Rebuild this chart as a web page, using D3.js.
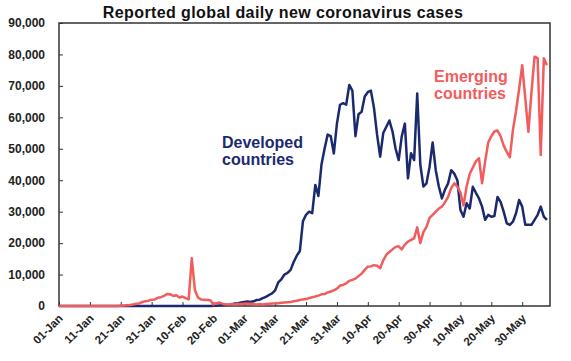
<!DOCTYPE html>
<html>
<head>
<meta charset="utf-8">
<script src="https://cdn.jsdelivr.net/npm/d3@7"></script>
<style>
  body { margin: 0; background: #fff; }
  svg text { font-family: "Liberation Sans", Arial, sans-serif; }
</style>
</head>
<body>
<div class="chart"></div>
<script>
// chart data, one value per day starting 01-Jan-2020
var startDate = "2020-01-01";
var emerging = [
  0, 0, 0, 0, 0, 0, 0, 0, 0, 0,
  0, 0, 0, 0, 0, 0, 0, 0, 0, 0,
  100, 150, 250, 300, 500, 700, 800, 1300, 1500, 1700,
  2000, 2100, 2600, 2800, 3200, 3800, 3700, 3200, 3400, 2700,
  3000, 2500, 2100, 15200, 5100, 2700, 2100, 2000, 1900, 1800,
  500, 900, 1100, 700, 500, 500, 600, 500, 600, 600,
  700, 800, 700, 600, 500, 600, 500, 600, 700, 800,
  800, 900, 1000, 1100, 1200, 1300, 1500, 1700, 1900, 2100,
  2200, 2500, 2800, 3000, 3300, 3700, 3800, 4300, 4600, 5000,
  5500, 6500, 6700, 7200, 8000, 8300, 8700, 9500, 10300, 11500,
  12500, 12600, 13000, 12800, 12000, 14500, 16300, 17200, 18000, 18800,
  19000, 18000, 19500, 20500, 21000, 21500, 25000, 20000, 23500, 25200,
  28000, 29000, 30000, 31000, 31600, 33000, 34700, 37500, 39000, 38000,
  36000, 32000, 38000, 42000, 44000, 46000, 47000, 39000, 46000, 52000,
  54000, 55500, 55800, 54000, 51000, 49000, 47300, 56000, 62000, 69000,
  76600, 66000, 55400, 68000, 79300, 78800, 48000, 78800, 76600
];
var developed = [
  0, 0, 0, 0, 0, 0, 0, 0, 0, 0,
  0, 0, 0, 0, 0, 0, 0, 0, 0, 0,
  0, 0, 0, 0, 0, 0, 0, 0, 0, 0,
  0, 0, 0, 0, 0, 0, 0, 0, 0, 0,
  0, 0, 0, 0, 0, 0, 0, 0, 0, 0,
  50, 100, 200, 300, 350, 400, 600, 800, 900, 1100,
  1300, 1400, 1300, 1500, 1900, 2000, 2500, 2900, 3500, 4000,
  5000, 7500, 8500, 10000, 10500, 11500, 14000, 16000, 17500, 27000,
  29000, 30000, 29500, 38500, 35000, 45000, 50000, 54500, 54000, 48500,
  58000, 64000, 64500, 64000, 70300, 68500, 54000, 61000, 61800, 66600,
  68000, 68500, 63000, 54500, 47500, 55000, 57000, 59000, 55500, 50000,
  46400, 54000, 58000, 40600, 48600, 46400, 67600, 45000, 38000, 39000,
  44300, 52000, 43200, 38000, 34200, 37000, 39000, 43200, 42100, 40000,
  30500, 28400, 32700, 31000, 37900, 36000, 34200, 31600, 27400, 29000,
  28400, 28600, 34700, 33100, 30000, 26300, 25800, 26800, 29500, 33700,
  31600, 25800, 25800, 25800, 27400, 29000, 31600, 28400, 27400
];
var xTickLabels = ["01-Jan", "11-Jan", "21-Jan", "31-Jan", "10-Feb", "20-Feb", "01-Mar", "11-Mar",
  "21-Mar", "31-Mar", "10-Apr", "20-Apr", "30-Apr", "10-May", "20-May", "30-May"];
var yTicks = [0, 10000, 20000, 30000, 40000, 50000, 60000, 70000, 80000, 90000];

var svgWidth = 571;
var svgHeight = 361;
var margin = {top: 23, right: 21, bottom: 55, left: 59};
var width = svgWidth - margin.left - margin.right;
var height = svgHeight - margin.top - margin.bottom;

var navy = "#1b2a6e";
var salmon = "#f25c5c";

var svg = d3.select(".chart")
  .append("svg")
  .attr("width", svgWidth)
  .attr("height", svgHeight);

var chart = svg.append("g")
  .attr("transform", "translate(" + margin.left + "," + margin.top + ")");

var parseDay = d3.timeParse("%Y-%m-%d");
var parseTick = d3.timeParse("%d-%b-%Y");
var day0 = parseDay(startDate);

var xScale = d3.scaleTime()
  .domain([day0, d3.timeDay.offset(day0, 159)])
  .range([0, width]);
var yScale = d3.scaleLinear()
  .domain([0, 90000])
  .range([height, 0]);

var tickDates = xTickLabels.map(function(l) { return parseTick(l + "-2020"); });

// axes (ticks point inwards)
var bottomAxis = d3.axisBottom(xScale)
  .tickValues(tickDates)
  .tickSizeInner(-4)
  .tickSizeOuter(0)
  .tickFormat(function(d, i) { return xTickLabels[i]; });
var leftAxis = d3.axisLeft(yScale)
  .tickValues(yTicks)
  .tickSizeInner(-4)
  .tickSizeOuter(0)
  .tickPadding(14)
  .tickFormat(d3.format(","));

var xg = chart.append("g")
  .attr("transform", "translate(0," + height + ")")
  .call(bottomAxis);
xg.select(".domain").remove();
xg.selectAll(".tick line").attr("stroke", "#333");
xg.selectAll(".tick text")
  .attr("y", null)
  .attr("dy", null)
  .attr("transform", "translate(4,13) rotate(-45)")
  .attr("text-anchor", "end")
  .attr("font-size", 11.5)
  .attr("font-weight", "bold")
  .attr("fill", "#222");

var yg = chart.append("g").call(leftAxis);
yg.select(".domain").remove();
yg.selectAll(".tick line").attr("stroke", "#333");
yg.selectAll(".tick text")
  .attr("font-size", 12)
  .attr("font-weight", "bold")
  .attr("fill", "#222");

// frame
chart.append("rect")
  .attr("x", 0)
  .attr("y", 0)
  .attr("width", width)
  .attr("height", height)
  .attr("fill", "none")
  .attr("stroke", "#333")
  .attr("stroke-width", 1.5);

var line = d3.line()
  .x(function(d, i) { return xScale(d3.timeDay.offset(day0, i)); })
  .y(function(d) { return yScale(d); });

chart.append("path")
  .datum(developed)
  .attr("d", line)
  .attr("fill", "none")
  .attr("stroke", navy)
  .attr("stroke-width", 2.5)
  .attr("stroke-linejoin", "round");

chart.append("path")
  .datum(emerging)
  .attr("d", line)
  .attr("fill", "none")
  .attr("stroke", salmon)
  .attr("stroke-width", 2.5)
  .attr("stroke-linejoin", "round");

// series labels
function addLabel(lines, x, y, color) {
  var t = chart.append("text")
    .attr("x", x)
    .attr("y", y)
    .attr("fill", color)
    .attr("font-size", 16)
    .attr("font-weight", "bold");
  lines.forEach(function(s, i) {
    t.append("tspan").attr("x", x).attr("dy", i === 0 ? 0 : 17).text(s);
  });
}
addLabel(["Developed", "countries"], 222 - margin.left, 148 - margin.top, navy);
addLabel(["Emerging", "countries"], 434 - margin.left, 82 - margin.top, salmon);

// title
svg.append("text")
  .attr("x", 283)
  .attr("y", 18)
  .attr("text-anchor", "middle")
  .attr("font-size", 16)
  .attr("letter-spacing", 0.4)
  .attr("font-weight", "bold")
  .attr("fill", "#111")
  .text("Reported global daily new coronavirus cases");
</script>
</body>
</html>
